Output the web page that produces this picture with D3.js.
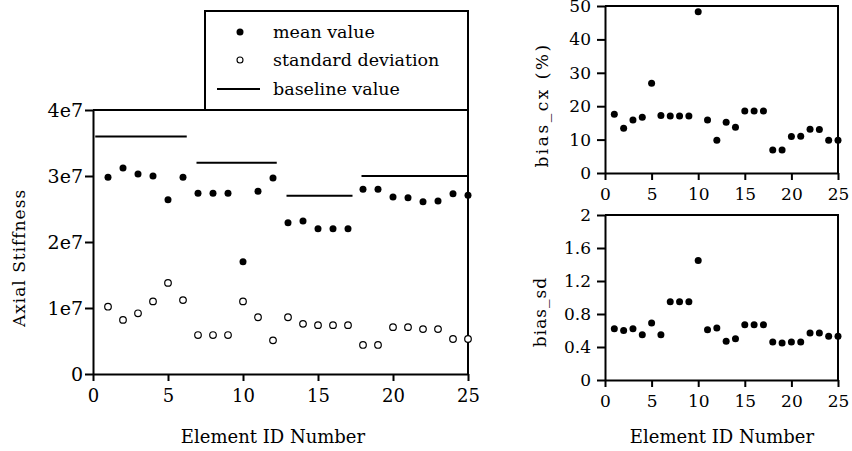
<!DOCTYPE html>
<html>
<head>
<meta charset="utf-8">
<script src="https://cdn.jsdelivr.net/npm/d3@7"></script>
<style>
  body { margin: 0; background: #fff; }
  svg text { font-family: "DejaVu Serif", "Liberation Serif", serif; fill: #000; }
  .axis path, .axis line { stroke: #000; stroke-width: 2; }
  .frame { fill: none; stroke: #000; stroke-width: 2; }
</style>
</head>
<body>
<svg id="chart" width="852" height="451"></svg>
<script>
// element ids 1..25
var elementIds = d3.range(1, 26);

// axial stiffness, mean and standard deviation per element
var meanValue = [2.98e7, 3.12e7, 3.03e7, 3.00e7, 2.64e7, 2.98e7, 2.74e7, 2.74e7, 2.74e7, 1.70e7,
                 2.77e7, 2.97e7, 2.29e7, 2.32e7, 2.20e7, 2.20e7, 2.20e7, 2.80e7, 2.80e7, 2.68e7,
                 2.67e7, 2.61e7, 2.62e7, 2.73e7, 2.71e7];
var stdDeviation = [1.02e7, 0.82e7, 0.92e7, 1.10e7, 1.38e7, 1.12e7, 0.59e7, 0.59e7, 0.59e7, 1.10e7,
                    0.86e7, 0.51e7, 0.86e7, 0.76e7, 0.74e7, 0.74e7, 0.74e7, 0.44e7, 0.44e7, 0.71e7,
                    0.71e7, 0.68e7, 0.68e7, 0.53e7, 0.53e7];

// baseline value segments: [from, to, value]
var baselineSegments = [[0.15, 6.25, 3.6e7], [6.9, 12.25, 3.2e7], [12.9, 17.3, 2.7e7], [17.9, 25, 3.0e7]];

var biasCx = [17.6, 13.4, 15.9, 16.7, 26.9, 17.2, 17.1, 17.1, 17.1, 48.3,
              15.9, 9.8, 15.2, 13.7, 18.6, 18.6, 18.6, 6.9, 6.9, 10.9,
              11.0, 13.1, 13.0, 9.8, 9.8];
var biasSd = [0.62, 0.60, 0.62, 0.55, 0.69, 0.55, 0.95, 0.95, 0.95, 1.45,
              0.61, 0.63, 0.47, 0.50, 0.67, 0.67, 0.67, 0.46, 0.45, 0.46,
              0.46, 0.57, 0.57, 0.53, 0.53];

var xTicks = [0, 5, 10, 15, 20, 25];
var stiffnessTicks = [0, 1e7, 2e7, 3e7, 4e7];
var stiffnessTickLabels = ["0", "1e7", "2e7", "3e7", "4e7"];
var biasCxTicks = [0, 10, 20, 30, 40, 50];
var biasSdTicks = [0, 0.4, 0.8, 1.2, 1.6, 2];
var legendLabels = ["mean value", "standard deviation", "baseline value"];

var svg = d3.select("#chart");

function drawPanel(opts) {
  var g = svg.append("g");
  var x = opts.x, y = opts.y;
  var x0 = x.range()[0], x1 = x.range()[1];
  var y0 = y.range()[0], y1 = y.range()[1];

  // top and right frame lines
  g.append("path")
    .attr("class", "frame")
    .attr("d", "M" + x0 + "," + y1 + "H" + x1 + "V" + y0);

  g.append("g")
    .attr("class", "axis")
    .attr("transform", "translate(0," + y0 + ")")
    .call(d3.axisBottom(x).tickValues(xTicks).tickFormat(d3.format("d"))
      .tickSize(7).tickSizeOuter(0).tickPadding(opts.xPad))
    .selectAll("text").style("font-size", opts.xFont + "px");

  g.append("g")
    .attr("class", "axis")
    .attr("transform", "translate(" + x0 + ",0)")
    .call(d3.axisLeft(y).tickValues(opts.yTicks).tickFormat(opts.yFormat)
      .tickSize(8).tickSizeOuter(0).tickPadding(opts.yPad))
    .selectAll("text").style("font-size", opts.yFont + "px");

  return g;
}

// ---- main panel: axial stiffness ----
var xMain = d3.scaleLinear().domain([0, 25]).range([93, 468]);
var yMain = d3.scaleLinear().domain([0, 4e7]).range([374, 110]);

var mainG = drawPanel({
  x: xMain, y: yMain, xFont: 18, yFont: 19, xPad: 8, yPad: 2,
  yTicks: stiffnessTicks,
  yFormat: function(d, i) { return stiffnessTickLabels[i]; }
});

mainG.selectAll(".baseline")
  .data(baselineSegments)
  .enter().append("line")
  .attr("x1", function(d) { return xMain(d[0]); })
  .attr("x2", function(d) { return xMain(d[1]); })
  .attr("y1", function(d) { return yMain(d[2]); })
  .attr("y2", function(d) { return yMain(d[2]); })
  .attr("stroke", "#000")
  .attr("stroke-width", 2);

mainG.selectAll(".sd")
  .data(stdDeviation)
  .enter().append("circle")
  .attr("cx", function(d, i) { return xMain(elementIds[i]); })
  .attr("cy", function(d) { return yMain(d); })
  .attr("r", 3.3)
  .attr("fill", "#fff")
  .attr("stroke", "#000")
  .attr("stroke-width", 1.2);

mainG.selectAll(".mean")
  .data(meanValue)
  .enter().append("circle")
  .attr("cx", function(d, i) { return xMain(elementIds[i]); })
  .attr("cy", function(d) { return yMain(d); })
  .attr("r", 3.5)
  .attr("fill", "#000");

// legend box sits on the top frame of the main plot
var legend = svg.append("g");
legend.append("rect")
  .attr("class", "frame")
  .attr("x", 205).attr("y", 11)
  .attr("width", 263).attr("height", 99);
legend.append("circle").attr("cx", 240).attr("cy", 32).attr("r", 3.5).attr("fill", "#000");
legend.append("circle").attr("cx", 240).attr("cy", 60).attr("r", 3)
  .attr("fill", "#fff").attr("stroke", "#000").attr("stroke-width", 1.1);
legend.append("line").attr("x1", 217).attr("x2", 260).attr("y1", 89).attr("y2", 89)
  .attr("stroke", "#000").attr("stroke-width", 2);
legend.selectAll("text")
  .data(legendLabels)
  .enter().append("text")
  .attr("x", 273)
  .attr("y", function(d, i) { return [38, 66, 95][i]; })
  .style("font-size", "17.5px")
  .text(function(d) { return d; });

svg.append("text")
  .attr("x", 273).attr("y", 443)
  .attr("text-anchor", "middle")
  .style("font-size", "18px")
  .text("Element ID Number");

svg.append("text")
  .attr("transform", "translate(25,258) rotate(-90)")
  .attr("text-anchor", "middle")
  .style("font-size", "17px")
  .style("letter-spacing", "1px")
  .text("Axial Stiffness");

// ---- right panels: bias ----
var xBias = d3.scaleLinear().domain([0, 25]).range([605, 838]);
var yCx = d3.scaleLinear().domain([0, 50]).range([173, 6]);
var ySd = d3.scaleLinear().domain([0, 2]).range([380, 215]);

var cxG = drawPanel({
  x: xBias, y: yCx, xFont: 17, yFont: 17, xPad: 8, yPad: 6,
  yTicks: biasCxTicks, yFormat: d3.format("d")
});
cxG.selectAll(".dot")
  .data(biasCx)
  .enter().append("circle")
  .attr("cx", function(d, i) { return xBias(elementIds[i]); })
  .attr("cy", function(d) { return yCx(d); })
  .attr("r", 3.5)
  .attr("fill", "#000");

var sdG = drawPanel({
  x: xBias, y: ySd, xFont: 17, yFont: 17, xPad: 8, yPad: 6,
  yTicks: biasSdTicks, yFormat: function(d) { return d === 0 || d === 2 ? String(d) : d3.format(".1f")(d); }
});
sdG.selectAll(".dot")
  .data(biasSd)
  .enter().append("circle")
  .attr("cx", function(d, i) { return xBias(elementIds[i]); })
  .attr("cy", function(d) { return ySd(d); })
  .attr("r", 3.5)
  .attr("fill", "#000");

svg.append("text")
  .attr("transform", "translate(548,105) rotate(-90)")
  .attr("text-anchor", "middle")
  .style("font-size", "17px")
  .style("letter-spacing", "2.5px")
  .text("bias_cx (%)");

svg.append("text")
  .attr("transform", "translate(546,312) rotate(-90)")
  .attr("text-anchor", "middle")
  .style("font-size", "17px")
  .style("letter-spacing", "1px")
  .text("bias_sd");

svg.append("text")
  .attr("x", 722).attr("y", 443)
  .attr("text-anchor", "middle")
  .style("font-size", "18px")
  .text("Element ID Number");
</script>
</body>
</html>
